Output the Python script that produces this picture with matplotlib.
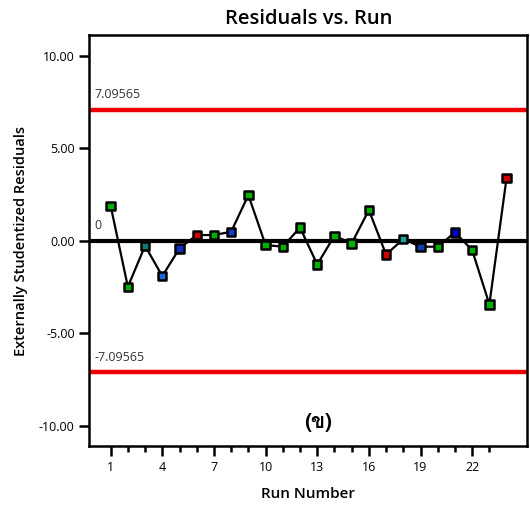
import matplotlib
matplotlib.use("Agg")
import matplotlib.pyplot as plt
from matplotlib import font_manager
from matplotlib.ft2font import FT2Font
from matplotlib.ticker import FixedLocator

# --- data -------------------------------------------------------------
runs = list(range(1, 25))
residuals = [1.89, -2.49, -0.27, -1.91, -0.41, 0.31, 0.31, 0.49, 2.47, -0.23,
             -0.32, 0.72, -1.28, 0.27, -0.14, 1.66, -0.74, 0.09, -0.32, -0.32,
             0.45, -0.50, -3.44, 3.41]
point_colors = ["#00b000", "#00b000", "#107878", "#1a6ad8", "#1030c0", "#d00000",
                "#00b000", "#1040c8", "#00b000", "#00b000", "#00b000", "#00b000",
                "#00b000", "#00b000", "#00b000", "#00b000", "#d00000", "#20a0a0",
                "#1040b0", "#00b000", "#0000d0", "#00b000", "#00b000", "#d00000"]
limit = 7.09565
y_ticks = [-10, -5, 0, 5, 10]
x_ticks = [1, 4, 7, 10, 13, 16, 19, 22]
panel_label = "(ข)"


def thai_family():
    """Find an installed font that has Thai glyphs (U+0E02)."""
    for fe in font_manager.fontManager.ttflist:
        try:
            if 0x0E02 in FT2Font(fe.fname).get_charmap():
                return fe.name
        except Exception:
            continue
    return None


plt.rcParams["font.family"] = ["Open Sans", "DejaVu Sans"]

fig = plt.figure(figsize=(5.30, 5.09), dpi=100)
ax = fig.add_axes([0.1685, 0.1238, 0.825, 0.807])

ax.axhline(limit, color="#ee0000", lw=3.2)
ax.axhline(-limit, color="#ee0000", lw=3.2)
ax.axhline(0, color="black", lw=3)

ax.plot(runs, residuals, color="black", lw=1.6, zorder=3)
ax.scatter(runs, residuals, marker="s", s=36, c=point_colors,
           edgecolors="black", linewidths=1.8, zorder=4)

for yv, txt in [(limit, f"{limit:g}"), (-limit, f"{-limit:g}"), (0, "0")]:
    ax.text(0.05, yv + 0.45, txt, fontsize=9, color="#333333",
            ha="left", va="bottom")

fam = thai_family()
lab_fams = [fam, "DejaVu Sans"] if fam else ["DejaVu Sans"]
ax.text(13.05, -9.85, panel_label, fontsize=15, fontweight="bold",
        ha="center", va="center", family=lab_fams)

ax.set_xlim(-0.24, 25.16)
ax.set_ylim(-11.1, 11.12)
ax.yaxis.set_major_locator(FixedLocator(y_ticks))
ax.set_yticklabels([f"{v:.2f}" for v in y_ticks])
ax.xaxis.set_major_locator(FixedLocator(x_ticks))
ax.xaxis.set_minor_locator(FixedLocator(range(1, 24)))
ax.tick_params(axis="both", which="major", direction="out", length=7,
               width=1.8, labelsize=9, colors="black")
ax.tick_params(axis="x", which="minor", direction="out", length=4, width=1.8)
for sp in ax.spines.values():
    sp.set_linewidth(1.8)

ax.set_xlabel("Run Number", fontsize=11, fontweight="semibold", labelpad=10)
ax.set_ylabel("Externally Studentized Residuals", fontsize=10.5,
              fontweight="semibold", labelpad=8)
fig.text(0.583, 0.963, "Residuals vs. Run", fontsize=14.5,
         fontweight="semibold", ha="center", va="center")

fig.savefig("out.png", dpi=100)
